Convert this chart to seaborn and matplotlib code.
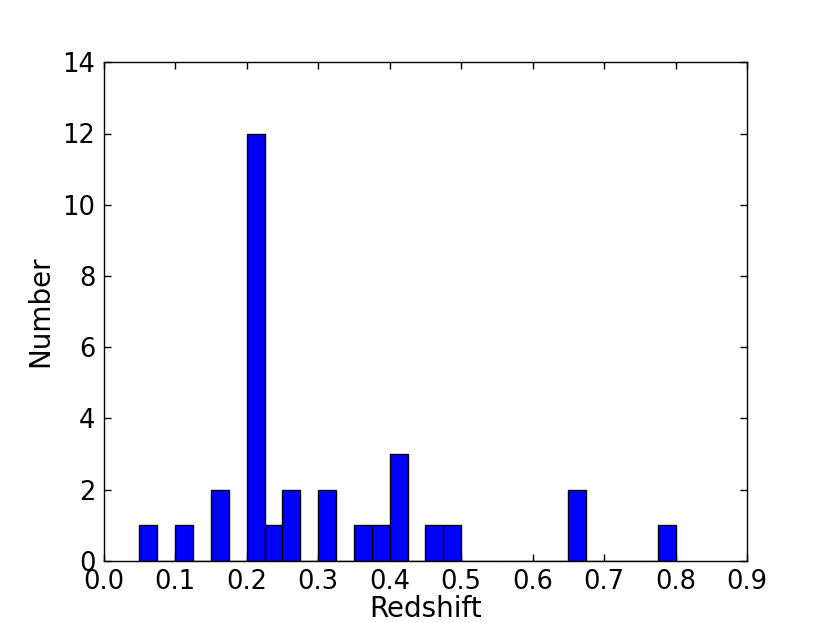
import numpy as np
import matplotlib
matplotlib.use("Agg")
import matplotlib.pyplot as plt
import seaborn as sns

# bins of width 0.025 from 0.05 to 0.8, with counts
bin_edges = [0.05 + 0.025 * k for k in range(31)]
counts = [1, 0, 1, 0, 2, 0, 12, 1, 2, 0,
          2, 0, 1, 1, 3, 0, 1, 1, 0, 0,
          0, 0, 0, 0, 2, 0, 0, 0, 0, 1]
x_ticks = [0.0, 0.1, 0.2, 0.3, 0.4, 0.5, 0.6, 0.7, 0.8, 0.9]
y_ticks = [0, 2, 4, 6, 8, 10, 12, 14]

centers = [(bin_edges[i] + bin_edges[i + 1]) / 2 for i in range(len(counts))]

sns.set_style("ticks")
plt.rcParams['font.family'] = ['DejaVu Sans']

fig = plt.figure(figsize=(8.3, 6.23), dpi=100)
ax = fig.add_axes([0.125, 0.1, 0.775, 0.8])

sns.histplot(x=centers, weights=counts, bins=bin_edges, color='#0000ff',
             alpha=1, edgecolor='black', linewidth=1, ax=ax)

ax.set_xlim(0, 0.9)
ax.set_ylim(0, 14)
ax.set_xticks(x_ticks)
ax.set_yticks(y_ticks)
ax.set_xticklabels([f"{t:.1f}" for t in x_ticks])
ax.tick_params(direction='in', top=True, right=True, length=5, width=1,
               labelsize=18.5, pad=6, colors='black')
for s in ax.spines.values():
    s.set_visible(True)
    s.set_linewidth(1)
    s.set_color('black')
ax.set_xlabel('Redshift', fontsize=20, color='black', labelpad=0)
ax.set_ylabel('Number', fontsize=20, color='black', labelpad=6)

fig.savefig('out.png', dpi=100)
